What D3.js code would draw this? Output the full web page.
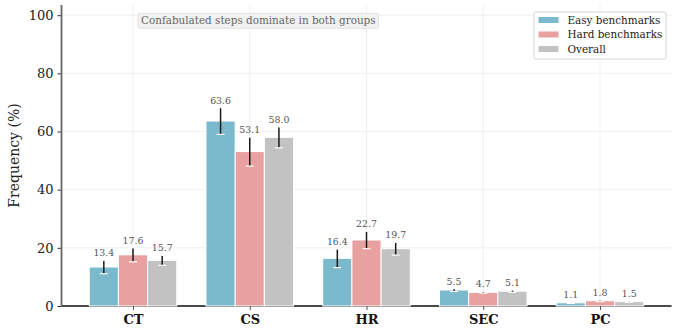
<!DOCTYPE html>
<html>
<head>
<meta charset="utf-8">
<title>Step type frequency</title>
<script src="https://d3js.org/d3.v7.min.js"></script>
<style>
  body { margin: 0; background: #fff; }
  svg { display: block; font-family: "DejaVu Serif", serif; }
</style>
</head>
<body>
<div id="chart"></div>
<script>
// data
var categories = ["CT", "CS", "HR", "SEC", "PC"];
var seriesNames = ["Easy benchmarks", "Hard benchmarks", "Overall"];
var easyVals = [13.4, 63.6, 16.4, 5.5, 1.1];
var hardVals = [17.6, 53.1, 22.7, 4.7, 1.8];
var overallVals = [15.7, 58.0, 19.7, 5.1, 1.5];
var easyErr = [2.3, 4.6, 3.2, 0.5, 0.2];
var hardErr = [2.4, 5.0, 3.0, 0.3, 0.3];
var overallErr = [1.7, 3.6, 2.2, 0.4, 0.2];
var yTicks = [0, 20, 40, 60, 80, 100];
var note = "Confabulated steps dominate in both groups";

var colors = ["#7bb9cc", "#e8a0a0", "#c2c2c2"];
var values = [easyVals, hardVals, overallVals];
var errors = [easyErr, hardErr, overallErr];

var W = 678, H = 334;
var svg = d3.select("#chart").append("svg").attr("width", W).attr("height", H);

var barW = 0.25;
var x = d3.scaleLinear().domain([-0.6125, 4.6125]).range([61.5, 671.5]);
var y = d3.scaleLinear().domain([0, 103.5]).range([306, 5]);

// grid
svg.append("g").selectAll("line.h").data(yTicks).enter().append("line")
  .attr("x1", x.range()[0]).attr("x2", x.range()[1])
  .attr("y1", function(d) { return y(d); }).attr("y2", function(d) { return y(d); })
  .attr("stroke", "#efefef").attr("stroke-width", 1);
svg.append("g").selectAll("line.v").data(categories).enter().append("line")
  .attr("x1", function(d, i) { return x(i); }).attr("x2", function(d, i) { return x(i); })
  .attr("y1", y.range()[1]).attr("y2", y.range()[0])
  .attr("stroke", "#efefef").attr("stroke-width", 1);

// bottom spine (under bars)
svg.append("line")
  .attr("x1", x.range()[0]).attr("x2", x.range()[1])
  .attr("y1", y(0)).attr("y2", y(0))
  .attr("stroke", "#111").attr("stroke-width", 1.3);

// bars
values.forEach(function(vals, s) {
  var off = (s - 1) * barW;
  var g = svg.append("g");
  g.selectAll("rect").data(vals).enter().append("rect")
    .attr("x", function(d, i) { return x(i + off - barW / 2); })
    .attr("width", x(barW) - x(0))
    .attr("y", function(d) { return y(d); })
    .attr("height", function(d) { return y(0) - y(d); })
    .attr("fill", colors[s])
    .attr("stroke", "#fff").attr("stroke-width", 1);

  // error bars
  g.selectAll("line.err").data(vals).enter().append("line")
    .attr("x1", function(d, i) { return x(i + off); })
    .attr("x2", function(d, i) { return x(i + off); })
    .attr("y1", function(d, i) { return y(d + errors[s][i]); })
    .attr("y2", function(d, i) { return y(d - errors[s][i]); })
    .attr("stroke", "#1a1a1a").attr("stroke-width", 1.5);
  [1, -1].forEach(function(sign) {
    g.selectAll("line.cap" + sign).data(vals).enter().append("line")
      .attr("x1", function(d, i) { return x(i + off) - 4; })
      .attr("x2", function(d, i) { return x(i + off) + 4; })
      .attr("y1", function(d, i) { return y(d + sign * errors[s][i]); })
      .attr("y2", function(d, i) { return y(d + sign * errors[s][i]); })
      .attr("stroke", "#fff").attr("stroke-width", 1.2);
  });

  // value labels
  g.selectAll("text").data(vals).enter().append("text")
    .attr("x", function(d, i) { return x(i + off); })
    .attr("y", function(d, i) { return y(d + errors[s][i]) - 4; })
    .attr("text-anchor", "middle")
    .attr("font-size", 9.4).attr("fill", "#555")
    .text(function(d) { return d.toFixed(1); });
});

// y axis
var yAxis = svg.append("g").attr("transform", "translate(" + x.range()[0] + ",0)")
  .call(d3.axisLeft(y).tickValues(yTicks).tickSize(4).tickPadding(4));
yAxis.select(".domain").remove();
yAxis.selectAll(".tick line").attr("stroke", "#333");
yAxis.selectAll(".tick text").attr("font-size", 13).attr("fill", "#222")
  .attr("font-family", "DejaVu Serif");
svg.append("line")
  .attr("x1", x.range()[0]).attr("x2", x.range()[0])
  .attr("y1", y.range()[1]).attr("y2", y(0))
  .attr("stroke", "#666").attr("stroke-width", 1.8);

// x axis
var xAxis = svg.append("g").attr("transform", "translate(0," + y(0) + ")")
  .call(d3.axisBottom(x).tickValues(d3.range(categories.length))
    .tickFormat(function(i) { return categories[i]; }).tickSize(4).tickPadding(5));
xAxis.select(".domain").remove();
xAxis.selectAll(".tick line").attr("stroke", "#555");
xAxis.selectAll(".tick text").attr("font-size", 13).attr("font-weight", "bold")
  .attr("fill", "#111").attr("font-family", "DejaVu Serif");

// y label
svg.append("text")
  .attr("transform", "translate(19," + (y(0) + y.range()[1]) / 2 + ") rotate(-90)")
  .attr("text-anchor", "middle").attr("font-size", 14).attr("fill", "#222")
  .text("Frequency (%)");

// annotation box
var ann = svg.append("g");
var annText = ann.append("text")
  .attr("x", 141).attr("y", 24.2)
  .attr("font-size", 10.4).attr("fill", "#666")
  .text(note);
var bb = annText.node().getBBox();
ann.insert("rect", "text")
  .attr("x", bb.x - 3).attr("y", 13.3)
  .attr("width", bb.width + 6).attr("height", 15)
  .attr("rx", 2).attr("fill", "#f2f2f2").attr("stroke", "#dcdcdc").attr("stroke-width", 0.8);

// legend
var leg = svg.append("g");
leg.append("rect").attr("x", 534).attr("y", 12).attr("width", 132).attr("height", 47)
  .attr("rx", 2).attr("fill", "#fff").attr("stroke", "#ccc").attr("stroke-width", 0.8);
seriesNames.forEach(function(name, s) {
  var cy = 20 + s * 14.5;
  leg.append("rect").attr("x", 538.5).attr("y", cy - 3).attr("width", 20).attr("height", 6)
    .attr("fill", colors[s]);
  leg.append("text").attr("x", 567.5).attr("y", cy + 3.8)
    .attr("font-size", 10.4).attr("fill", "#222").text(name);
});
</script>
</body>
</html>
